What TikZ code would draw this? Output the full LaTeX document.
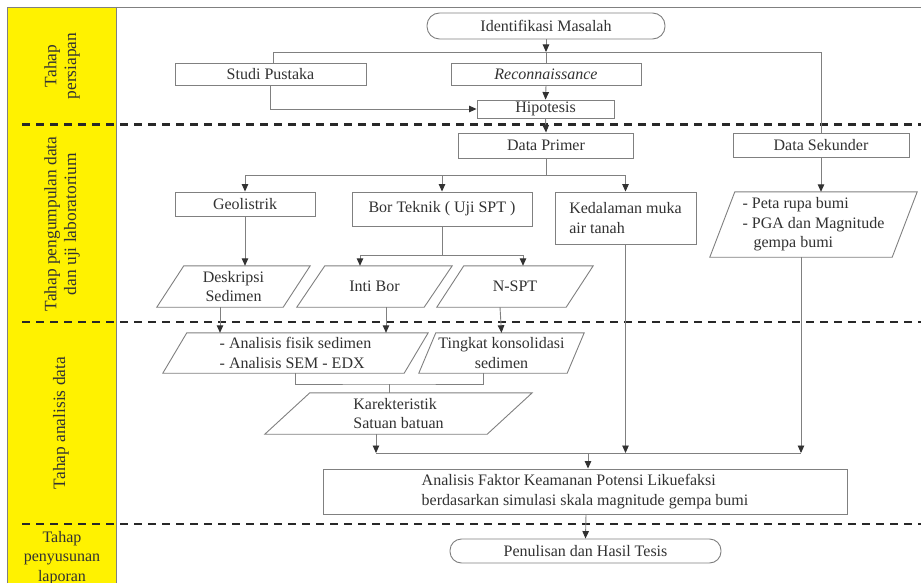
\documentclass[tikz,border=0pt]{standalone}
\usepackage{fontspec}
\setmainfont{Liberation Serif}
\usetikzlibrary{arrows.meta,calc}
\definecolor{band}{RGB}{255,242,0}
\definecolor{lin}{RGB}{128,128,128}
\definecolor{ink}{RGB}{50,50,50}
\definecolor{dashc}{RGB}{40,40,40}
\newcommand\paral[2]{\draw[boxline] (#1.south west) -- ($(#1.north west)+(#2,0)$) -- (#1.north east) -- ($(#1.south east)+(-#2,0)$) -- cycle;}
\begin{document}
\begin{tikzpicture}[x=1pt,y=-1pt,
  txt/.style={font=\fontsize{16}{19.5}\selectfont, text=ink, align=center, inner sep=0pt},
  box/.style={txt, draw=lin, line width=0.9pt},
  pbox/.style={txt},
  boxline/.style={draw=lin, line width=0.9pt},
  line/.style={draw=lin, line width=0.9pt},
  arr/.style={line, -{Triangle[length=7.5pt,width=6.5pt,color=ink]}},
  phaseline/.style={draw=dashc, line width=2.6pt, dash pattern=on 8pt off 6pt},
  lbl/.style={txt},
  vlbl/.style={txt, font=\fontsize{17.4}{19.8}\selectfont, rotate=90}]
\useasboundingbox (0,0) rectangle (921,583);
\fill[white] (0,0) rectangle (921,583);
% band and frame
\fill[band] (7.5,7.5) rectangle (116,583);
\draw[lin, line width=0.6pt] (116,7) -- (116,583);
\draw[lin, line width=0.9pt] (7,583) -- (7,7) -- (921,7);
% phase separators
\draw[phaseline] (22,124.5) -- (921,124.5);
\draw[phaseline] (22,322) -- (921,322);
\draw[phaseline] (22,524) -- (921,524);
% phase labels
\node[vlbl] (l1) at (62,66) {Tahap\\persiapan};
\node[vlbl] (l2) at (62,224) {Tahap pengumpulan data\\dan uji laboratorium};
\node[vlbl] (l3) at (61,423) {Tahap analisis data};
\node[lbl] (l4) at (62,558) {Tahap\\penyusunan\\laporan};
% boxes
\node[box, minimum width=238pt, minimum height=26pt, rounded corners=12.5pt] (ident) at (546,26) {Identifikasi Masalah};
\node[box, minimum width=191pt, minimum height=22pt] (studi) at (270.5,74) {Studi Pustaka};
\node[box, minimum width=190pt, minimum height=22pt] (recon) at (546,74) {\itshape Reconnaissance};
\node[box, minimum width=137pt, minimum height=18pt] (hipo) at (545.5,109) {Hipotesis};
\node[box, minimum width=175pt, minimum height=25pt] (primer) at (546,145.5) {Data Primer};
\node[box, minimum width=176pt, minimum height=24pt] (sekunder) at (821,145) {Data Sekunder};
\node[box, minimum width=140pt, minimum height=24pt] (geo) at (245,204) {Geolistrik};
\node[box, minimum width=180pt, minimum height=34pt] (bor) at (442,209) {Bor Teknik ( Uji SPT )};
\node[box, minimum width=141pt, minimum height=52pt, align=left] (kedal) at (625.5,218) {Kedalaman muka\\air tanah};
\node[pbox, minimum width=207pt, minimum height=65pt, align=left] (peta) at (813.5,224.5) {- Peta rupa bumi\\- PGA dan Magnitude\\\hspace*{11pt}gempa bumi};
\paral{peta}{25}
\node[pbox, minimum width=153pt, minimum height=41pt] (desk) at (233.5,286.5) {Deskripsi\\Sedimen};
\paral{desk}{27}
\node[pbox, minimum width=155pt, minimum height=41pt] (inti) at (374.5,286.5) {Inti Bor};
\paral{inti}{28}
\node[pbox, minimum width=156pt, minimum height=41pt] (nspt) at (515,286.5) {N-SPT};
\paral{nspt}{27}
\node[pbox, minimum width=265pt, minimum height=40pt, align=left] (anal) at (295.5,353) {- Analisis fisik sedimen\\- Analisis SEM - EDX};
\paral{anal}{24}
\node[pbox, minimum width=165pt, minimum height=40pt] (tingkat) at (501.5,353) {Tingkat konsolidasi\\sedimen};
\paral{tingkat}{17}
\node[pbox, minimum width=267pt, minimum height=41pt, align=left] (karek) at (398.5,413.5) {Karekteristik\\Satuan batuan};
\paral{karek}{45}
\node[box, minimum width=524pt, minimum height=45pt, align=left] (faktor) at (585,491.5) {Analisis Faktor Keamanan Potensi Likuefaksi\\berdasarkan simulasi skala magnitude gempa bumi};
\node[box, minimum width=271pt, minimum height=24pt, rounded corners=11.5pt] (penul) at (585.5,551) {Penulisan dan Hasil Tesis};
% connectors
\coordinate (jA) at (546,52);
\coordinate (jL) at (273,52);
\coordinate (jR) at (821,52);
\draw[arr] (ident.south) -- (jA);
\draw[line] (jL |- studi.north) -- (jL) -- (jR) -- (jR |- sekunder.north);
\draw[line] (jA) -- (recon.north);
\draw[arr] (recon.south) -- (hipo.north);
\draw[arr] ([xshift=-0.5pt]studi.south) |- (hipo.west);
\draw[arr] (hipo.south) -- (primer.north);
\coordinate (jP) at (546,175);
\draw[line] (primer.south) -- (jP);
\draw[line] (geo.north |- jP) -- (kedal.north |- jP);
\draw[arr] (geo.north |- jP) -- (geo.north);
\draw[arr] (bor.north |- jP) -- (bor.north);
\draw[arr] (kedal.north |- jP) -- (kedal.north);
\draw[arr] (sekunder.south) -- (sekunder.south |- peta.north);
\draw[arr] (geo.south) -- (geo.south |- desk.north);
\coordinate (jB) at (442,255);
\coordinate (jB1) at (360,255);
\coordinate (jB2) at (523,255);
\draw[line] (bor.south) -- (jB);
\draw[line] (jB1) -- (jB2);
\draw[arr] (jB1) -- (jB1 |- inti.north);
\draw[arr] (jB2) -- (jB2 |- nspt.north);
\draw[arr] ([xshift=-13.5pt]desk.south) -- ([xshift=-13.5pt]desk.south |- anal.north);
\draw[arr] ([xshift=11.5pt]inti.south) -- ([xshift=11.5pt]inti.south |- anal.north);
\draw[arr] ([xshift=-15pt]nspt.south) -- (tingkat.north);
\coordinate (jK) at (389,384);
\draw[line] (anal.south) |- (jK) -| ([xshift=-18.5pt]tingkat.south);
\draw[line] (jK) -- (jK |- karek.north);
\coordinate (jF) at (588,453);
\coordinate (jF1) at (376,453);
\coordinate (jF2) at (801,453);
\draw[arr] ([xshift=-22.5pt]karek.south) -- (jF1);
\draw[line] (jF1) -- (jF2);
\draw[arr] (kedal.south) -- (kedal.south |- jF);
\draw[arr] ([xshift=-12.5pt]peta.south) -- (jF2);
\draw[arr] (jF) -- (jF |- faktor.north);
\draw[arr] ([xshift=1pt]faktor.south) -- (penul.north);
\end{tikzpicture}
\end{document}
